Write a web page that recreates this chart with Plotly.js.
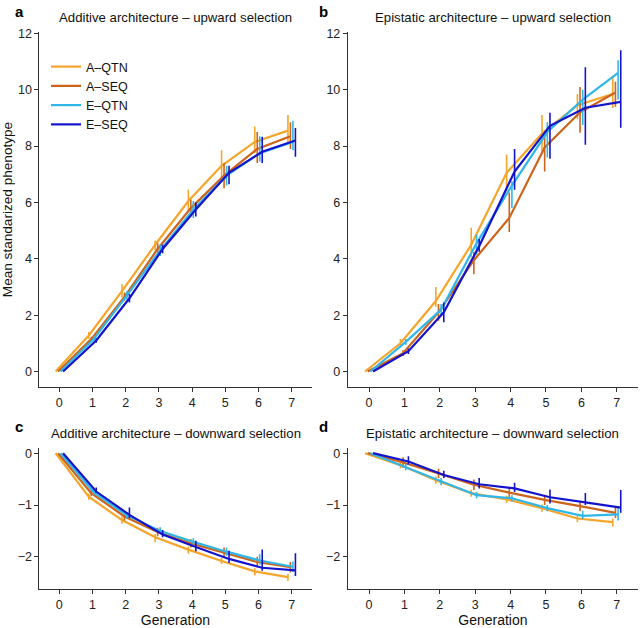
<!DOCTYPE html>
<html>
<head>
<meta charset="utf-8">
<script src="https://cdn.plot.ly/plotly-3.0.1.min.js"></script>
<style>html,body{margin:0;padding:0;background:#fff}#chart{width:640px;height:628px}</style>
</head>
<body>
<div id="chart"></div>
<script>
// ---- data ----
const generations = [0, 1, 2, 3, 4, 5, 6, 7];
const seriesNames = ['A\u2013QTN', 'A\u2013SEQ', 'E\u2013QTN', 'E\u2013SEQ'];

// (a) Additive architecture – upward selection  (mean, error above, error below)
const addUp_AQTN_mean = [0, 1.28, 2.85, 4.5, 6.05, 7.3, 8.15, 8.55];
const addUp_AQTN_up   = [0, 0.12, 0.25, 0.15, 0.4, 0.55, 0.55, 0.55];
const addUp_AQTN_dn   = [0, 0.12, 0.22, 0.2, 0.38, 0.5, 0.4, 0.45];
const addUp_ASEQ_mean = [0, 1.15, 2.65, 4.35, 5.8, 6.95, 7.9, 8.35];
const addUp_ASEQ_up   = [0, 0.08, 0.15, 0.2, 0.3, 0.45, 0.6, 0.5];
const addUp_ASEQ_dn   = [0, 0.08, 0.15, 0.2, 0.3, 0.45, 0.5, 0.45];
const addUp_EQTN_mean = [0, 1.15, 2.7, 4.3, 5.75, 6.95, 7.75, 8.15];
const addUp_EQTN_up   = [0, 0.08, 0.15, 0.2, 0.3, 0.35, 0.6, 0.75];
const addUp_EQTN_dn   = [0, 0.08, 0.15, 0.2, 0.3, 0.35, 0.3, 0.3];
const addUp_ESEQ_mean = [0, 1.1, 2.6, 4.35, 5.75, 7.05, 7.8, 8.2];
const addUp_ESEQ_up   = [0, 0.08, 0.15, 0.15, 0.25, 0.25, 0.53, 0.44];
const addUp_ESEQ_dn   = [0, 0.08, 0.15, 0.15, 0.25, 0.4, 0.4, 0.58];

// (b) Epistatic architecture – upward selection
const epiUp_AQTN_mean = [0, 1.0, 2.5, 4.5, 7.05, 8.45, 9.45, 9.85];
const epiUp_AQTN_up   = [0, 0.15, 0.5, 0.6, 0.65, 0.65, 0.4, 0.65];
const epiUp_AQTN_dn   = [0, 0.15, 0.2, 0.45, 0.65, 0.65, 0.5, 0.5];
const epiUp_ASEQ_mean = [0, 0.65, 2.1, 3.95, 5.45, 7.95, 9.2, 9.9];
const epiUp_ASEQ_up   = [0, 0.1, 0.3, 0.3, 0.9, 0.4, 0.9, 0.38];
const epiUp_ASEQ_dn   = [0, 0.1, 0.3, 0.5, 0.5, 0.85, 0.73, 0.5];
const epiUp_EQTN_mean = [0, 1.05, 2.2, 4.55, 6.6, 8.5, 9.65, 10.6];
const epiUp_EQTN_up   = [0, 0.1, 0.2, 0.3, 0.15, 0.35, 0.35, 0.45];
const epiUp_EQTN_dn   = [0, 0.1, 0.2, 0.4, 0.8, 0.9, 0.9, 0.95];
const epiUp_ESEQ_mean = [0, 0.72, 2.1, 4.45, 7.1, 8.72, 9.36, 9.57];
const epiUp_ESEQ_up   = [0, 0.1, 0.35, 0.25, 0.8, 0.46, 1.44, 1.83];
const epiUp_ESEQ_dn   = [0, 0.1, 0.35, 0.2, 0.65, 1.17, 1.31, 0.92];

// (c) Additive architecture – downward selection
const addDown_AQTN_mean = [0, -0.84, -1.29, -1.62, -1.86, -2.08, -2.28, -2.39];
const addDown_AQTN_up   = [0, 0.06, 0.07, 0.06, 0.06, 0.06, 0.06, 0.06];
const addDown_AQTN_dn   = [0, 0.06, 0.07, 0.1, 0.08, 0.06, 0.08, 0.07];
const addDown_ASEQ_mean = [0, -0.77, -1.22, -1.52, -1.74, -1.92, -2.1, -2.2];
const addDown_ASEQ_up   = [0, 0.06, 0.08, 0.08, 0.08, 0.1, 0.1, 0.1];
const addDown_ASEQ_dn   = [0, 0.06, 0.08, 0.08, 0.08, 0.1, 0.1, 0.1];
const addDown_EQTN_mean = [0, -0.75, -1.2, -1.5, -1.71, -1.9, -2.07, -2.19];
const addDown_EQTN_up   = [0, 0.05, 0.06, 0.07, 0.07, 0.08, 0.12, 0.1];
const addDown_EQTN_dn   = [0, 0.05, 0.06, 0.05, 0.07, 0.08, 0.08, 0.1];
const addDown_ESEQ_mean = [0, -0.74, -1.19, -1.57, -1.81, -2.04, -2.21, -2.26];
const addDown_ESEQ_up   = [0, 0.08, 0.14, 0.09, 0.12, 0.16, 0.35, 0.33];
const addDown_ESEQ_dn   = [0, 0.03, 0.06, 0.05, 0.08, 0.08, 0.06, 0.11];

// (d) Epistatic architecture – downward selection
const epiDown_AQTN_mean = [0, -0.23, -0.52, -0.77, -0.89, -1.06, -1.26, -1.33];
const epiDown_AQTN_up   = [0, 0.06, 0.07, 0.07, 0.07, 0.07, 0.07, 0.07];
const epiDown_AQTN_dn   = [0, 0.06, 0.07, 0.07, 0.07, 0.07, 0.07, 0.08];
const epiDown_ASEQ_mean = [0, -0.18, -0.39, -0.61, -0.76, -0.9, -1.02, -1.15];
const epiDown_ASEQ_up   = [0, 0.1, 0.09, 0.1, 0.1, 0.1, 0.1, 0.1];
const epiDown_ASEQ_dn   = [0, 0.1, 0.09, 0.1, 0.1, 0.1, 0.1, 0.1];
const epiDown_EQTN_mean = [0, -0.27, -0.55, -0.81, -0.87, -1.06, -1.21, -1.18];
const epiDown_EQTN_up   = [0, 0.06, 0.07, 0.06, 0.06, 0.06, 0.1, 0.16];
const epiDown_EQTN_dn   = [0, 0.06, 0.07, 0.06, 0.06, 0.06, 0.06, 0.12];
const epiDown_ESEQ_mean = [0, -0.16, -0.42, -0.6, -0.68, -0.85, -0.95, -1.05];
const epiDown_ESEQ_up   = [0, 0.1, 0.08, 0.12, 0.11, 0.15, 0.18, 0.34];
const epiDown_ESEQ_dn   = [0, 0.06, 0.06, 0.08, 0.07, 0.12, 0.05, 0.1];

const panelTitles = [
  'Additive architecture \u2013 upward selection',
  'Epistatic architecture \u2013 upward selection',
  'Additive architecture \u2013 downward selection',
  'Epistatic architecture \u2013 downward selection'
];
const panelLetters = ['a', 'b', 'c', 'd'];

// ---- styling ----
const colors = ['#F5A52A', '#CD641C', '#30B7EA', '#1414CC'];
const dodge = [-0.1125, -0.0375, 0.0375, 0.1125];
const FONT = '"Liberation Sans", Arial, Helvetica, sans-serif';

const panels = [
  {means: [addUp_AQTN_mean, addUp_ASEQ_mean, addUp_EQTN_mean, addUp_ESEQ_mean],
   ups: [addUp_AQTN_up, addUp_ASEQ_up, addUp_EQTN_up, addUp_ESEQ_up],
   dns: [addUp_AQTN_dn, addUp_ASEQ_dn, addUp_EQTN_dn, addUp_ESEQ_dn], xa: 'x', ya: 'y'},
  {means: [epiUp_AQTN_mean, epiUp_ASEQ_mean, epiUp_EQTN_mean, epiUp_ESEQ_mean],
   ups: [epiUp_AQTN_up, epiUp_ASEQ_up, epiUp_EQTN_up, epiUp_ESEQ_up],
   dns: [epiUp_AQTN_dn, epiUp_ASEQ_dn, epiUp_EQTN_dn, epiUp_ESEQ_dn], xa: 'x2', ya: 'y2'},
  {means: [addDown_AQTN_mean, addDown_ASEQ_mean, addDown_EQTN_mean, addDown_ESEQ_mean],
   ups: [addDown_AQTN_up, addDown_ASEQ_up, addDown_EQTN_up, addDown_ESEQ_up],
   dns: [addDown_AQTN_dn, addDown_ASEQ_dn, addDown_EQTN_dn, addDown_ESEQ_dn], xa: 'x3', ya: 'y3'},
  {means: [epiDown_AQTN_mean, epiDown_ASEQ_mean, epiDown_EQTN_mean, epiDown_ESEQ_mean],
   ups: [epiDown_AQTN_up, epiDown_ASEQ_up, epiDown_EQTN_up, epiDown_ESEQ_up],
   dns: [epiDown_AQTN_dn, epiDown_ASEQ_dn, epiDown_EQTN_dn, epiDown_ESEQ_dn], xa: 'x4', ya: 'y4'}
];

const traces = [];
panels.forEach((p, pi) => {
  seriesNames.forEach((name, si) => {
    traces.push({
      type: 'scatter', mode: 'lines', name: name,
      x: generations.map(g => g + dodge[si]),
      y: p.means[si],
      xaxis: p.xa, yaxis: p.ya,
      line: {color: colors[si], width: 2.2},
      error_y: {type: 'data', symmetric: false, array: p.ups[si], arrayminus: p.dns[si],
                visible: true, color: colors[si], thickness: 1.6, width: 0},
      showlegend: pi === 0, legendgroup: name,
      hoverinfo: 'skip'
    });
  });
});

const W = 640, H = 628;
const colL = [39.4 / W, 311.6 / W];
const colR = [347.8 / W, 638 / W];
const rowTop = [1 - 387 / H, 1 - 32 / H];
const rowBot = [1 - 589 / H, 1 - 448 / H];

function xAxis(domain, anchor, withTitle) {
  const a = {
    domain: domain, anchor: anchor, range: [-0.6, 7.6],
    tickmode: 'array', tickvals: generations, ticktext: generations.map(String),
    showline: true, linecolor: '#333', linewidth: 1,
    ticks: 'outside', ticklen: 4, tickcolor: '#333', tickwidth: 1,
    showgrid: false, zeroline: false,
    tickfont: {family: FONT, size: 12.5, color: '#222'}
  };
  if (withTitle) a.title = {text: 'Generation', font: {family: FONT, size: 14, color: '#111'}, standoff: 5};
  return a;
}
function yAxis(domain, anchor, range, tickvals, title) {
  const a = {
    domain: domain, anchor: anchor, range: range,
    tickmode: 'array', tickvals: tickvals,
    showline: true, linecolor: '#333', linewidth: 1,
    ticks: 'outside', ticklen: 4, tickcolor: '#333', tickwidth: 1,
    showgrid: false, zeroline: false,
    tickfont: {family: FONT, size: 12.5, color: '#222'}
  };
  if (title) a.title = {text: title, font: {family: FONT, size: 13.6, color: '#111'}, standoff: 4};
  return a;
}

const upTicks = [0, 2, 4, 6, 8, 10, 12];
const downTicks = [0, -1, -2];

const annotations = [];
const titleCenters = [
  [(colL[0] + colL[1]) / 2, 1 - 18 / H],
  [(colR[0] + colR[1]) / 2, 1 - 18 / H],
  [(colL[0] + colL[1]) / 2, 1 - 433 / H],
  [(colR[0] + colR[1]) / 2, 1 - 433 / H]
];
const letterPos = [[13 / W, 1 - 12 / H], [317 / W, 1 - 12 / H], [13 / W, 1 - 426 / H], [317 / W, 1 - 426 / H]];
panelTitles.forEach((t, i) => {
  annotations.push({text: t, xref: 'paper', yref: 'paper', x: titleCenters[i][0], y: titleCenters[i][1],
    xanchor: 'center', yanchor: 'middle', showarrow: false, font: {family: FONT, size: 13.2, color: '#111'}});
  annotations.push({text: '<b>' + panelLetters[i] + '</b>', xref: 'paper', yref: 'paper', x: letterPos[i][0], y: letterPos[i][1],
    xanchor: 'left', yanchor: 'middle', showarrow: false, font: {family: FONT, size: 15, color: '#000'}});
});

const layout = {
  width: W, height: H,
  margin: {l: 0, r: 0, t: 0, b: 0},
  paper_bgcolor: '#fff', plot_bgcolor: '#fff',
  font: {family: FONT, color: '#111'},
  showlegend: true,
  legend: {x: 46 / W, y: 1 - 52 / H, xanchor: 'left', yanchor: 'top', bgcolor: 'rgba(0,0,0,0)',
    font: {family: FONT, size: 12.5, color: '#111'}, tracegroupgap: 0, itemwidth: 30},
  xaxis: xAxis(colL, 'y', false),
  yaxis: yAxis(rowTop, 'x', [-0.55, 12.05], upTicks, 'Mean standarized phenotype'),
  xaxis2: xAxis(colR, 'y2', false),
  yaxis2: yAxis(rowTop, 'x2', [-0.55, 12.05], upTicks, null),
  xaxis3: xAxis(colL, 'y3', true),
  yaxis3: yAxis(rowBot, 'x3', [-2.62, 0.1], downTicks, null),
  xaxis4: xAxis(colR, 'y4', true),
  yaxis4: yAxis(rowBot, 'x4', [-2.62, 0.1], downTicks, null),
  annotations: annotations
};

Plotly.newPlot('chart', traces, layout, {staticPlot: true, displayModeBar: false});
</script>
</body>
</html>
